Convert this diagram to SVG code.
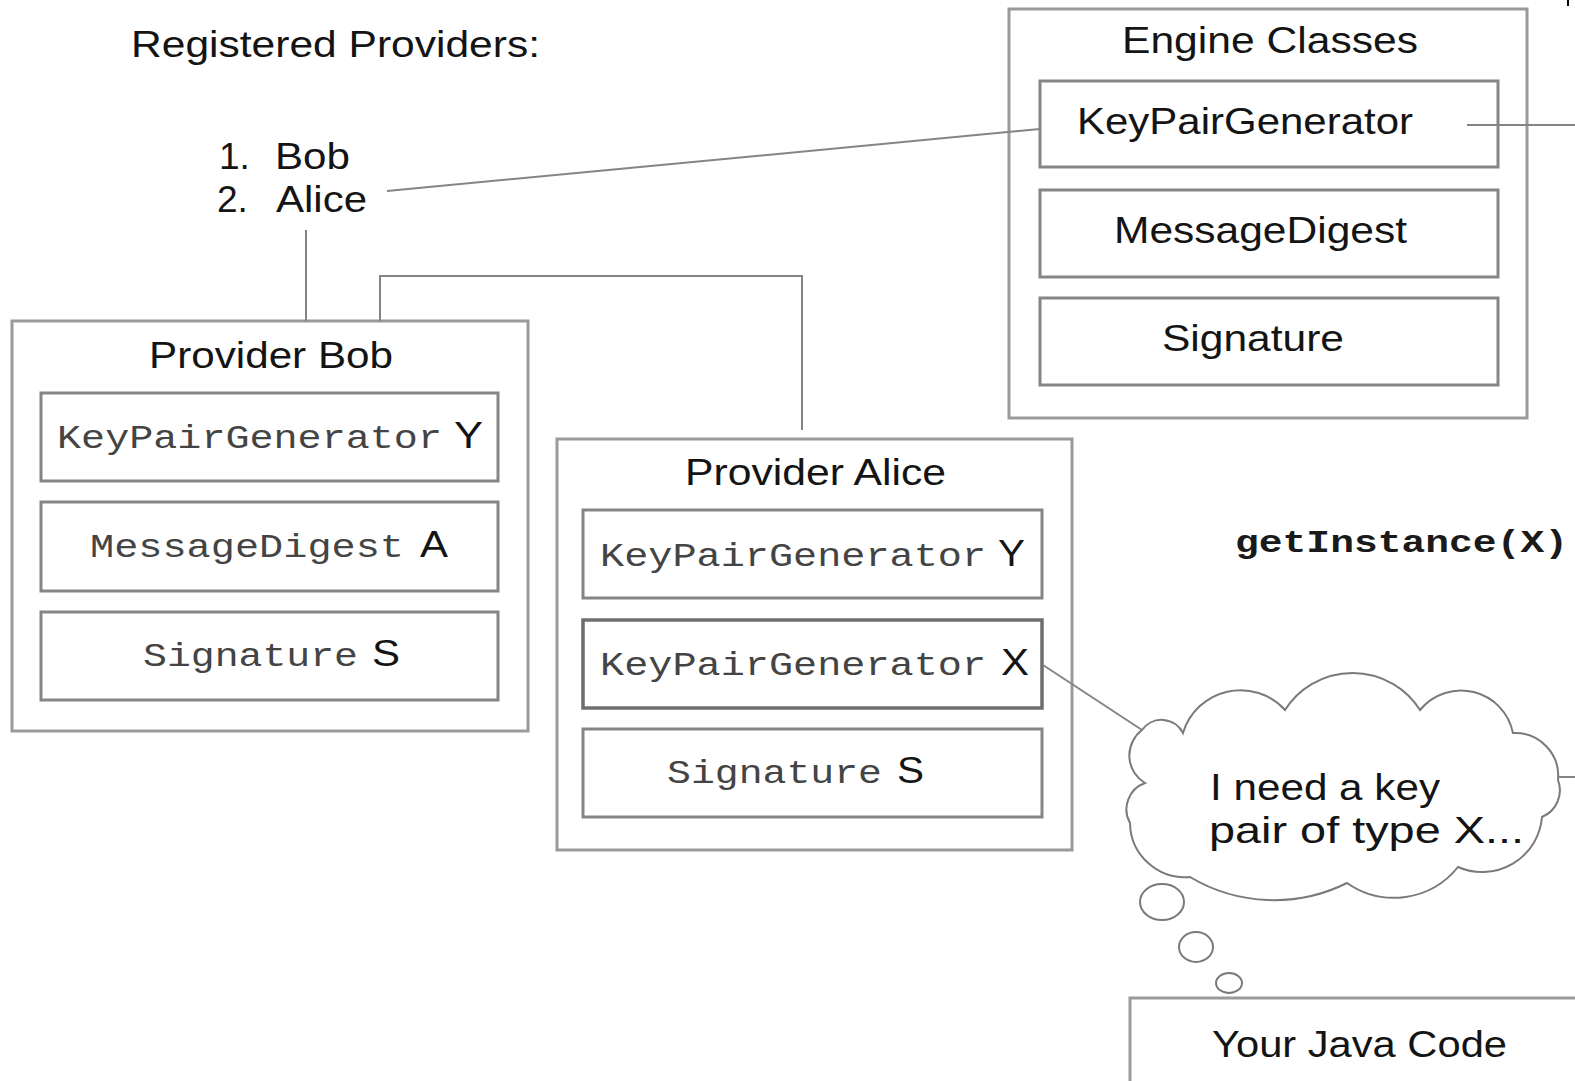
<svg xmlns="http://www.w3.org/2000/svg" width="1575" height="1081" viewBox="0 0 1575 1081">
  <style>
    .outer { fill: #fff; stroke: #9a9a9a; stroke-width: 3; }
    .inner { fill: #fff; stroke: #858585; stroke-width: 3; }
    .sel { fill: #fff; stroke: #6e6e6e; stroke-width: 3.5; }
    .sans { font-family: "Liberation Sans", Arial, sans-serif; font-size: 37px; fill: #141414; }
    .mono { font-family: "Liberation Mono", "Courier New", monospace; font-size: 34px; fill: #444; }
    .code { font-family: "Liberation Mono", "Courier New", monospace; font-size: 32px; font-weight: bold; fill: #1a1a1a; }
    .wire { fill: none; stroke: #858585; stroke-width: 2; }
    .bubble { fill: #fff; stroke: #7a7a7a; stroke-width: 2; }
  </style>

  <rect width="1575" height="1081" fill="#fff"/>

  <text id="registered-title" class="sans" x="131" y="57" textLength="409" lengthAdjust="spacingAndGlyphs">Registered Providers:</text>

  <g id="provider-order">
    <text class="sans" y="169"><tspan x="219">1.</tspan><tspan x="275" textLength="75" lengthAdjust="spacingAndGlyphs">Bob</tspan></text>
    <text class="sans" y="212"><tspan x="217">2.</tspan><tspan x="276" textLength="91" lengthAdjust="spacingAndGlyphs">Alice</tspan></text>
  </g>

  <!-- engine classes -->
  <g id="engine-classes">
    <rect class="outer" x="1009" y="9" width="518" height="409"/>
    <text class="sans" x="1122" y="53" textLength="296" lengthAdjust="spacingAndGlyphs">Engine Classes</text>
    <g id="engine-kpg">
      <rect class="inner" x="1040" y="81" width="458" height="86"/>
      <text class="sans" x="1077" y="134" textLength="336" lengthAdjust="spacingAndGlyphs">KeyPairGenerator</text>
    </g>
    <g id="engine-md">
      <rect class="inner" x="1040" y="190" width="458" height="87"/>
      <text class="sans" x="1114" y="243" textLength="293" lengthAdjust="spacingAndGlyphs">MessageDigest</text>
    </g>
    <g id="engine-sig">
      <rect class="inner" x="1040" y="298" width="458" height="87"/>
      <text class="sans" x="1162" y="351" textLength="182" lengthAdjust="spacingAndGlyphs">Signature</text>
    </g>
  </g>

  <!-- provider Bob -->
  <g id="provider-bob">
    <rect class="outer" x="12" y="321" width="516" height="410"/>
    <text class="sans" x="149" y="368" textLength="244" lengthAdjust="spacingAndGlyphs">Provider Bob</text>
    <g id="bob-kpg">
      <rect class="inner" x="41" y="393" width="457" height="88"/>
      <text class="mono" x="57" y="448" textLength="385" lengthAdjust="spacingAndGlyphs">KeyPairGenerator</text>
      <text class="sans" x="454" y="448" textLength="29" lengthAdjust="spacingAndGlyphs">Y</text>
    </g>
    <g id="bob-md">
      <rect class="inner" x="41" y="502" width="457" height="89"/>
      <text class="mono" x="90" y="557" textLength="314" lengthAdjust="spacingAndGlyphs">MessageDigest</text>
      <text class="sans" x="420" y="557" textLength="28" lengthAdjust="spacingAndGlyphs">A</text>
    </g>
    <g id="bob-sig">
      <rect class="inner" x="41" y="612" width="457" height="88"/>
      <text class="mono" x="143" y="666" textLength="215" lengthAdjust="spacingAndGlyphs">Signature</text>
      <text class="sans" x="372" y="666" textLength="28" lengthAdjust="spacingAndGlyphs">S</text>
    </g>
  </g>

  <!-- provider Alice -->
  <g id="provider-alice">
    <rect class="outer" x="557" y="439" width="515" height="411"/>
    <text class="sans" x="685" y="485" textLength="261" lengthAdjust="spacingAndGlyphs">Provider Alice</text>
    <g id="alice-kpg-y">
      <rect class="inner" x="583" y="510" width="459" height="88"/>
      <text class="mono" x="600" y="566" textLength="386" lengthAdjust="spacingAndGlyphs">KeyPairGenerator</text>
      <text class="sans" x="998" y="566" textLength="27" lengthAdjust="spacingAndGlyphs">Y</text>
    </g>
    <g id="alice-kpg-x">
      <rect class="sel" x="583" y="620" width="459" height="88"/>
      <text class="mono" x="600" y="675" textLength="386" lengthAdjust="spacingAndGlyphs">KeyPairGenerator</text>
      <text class="sans" x="1001" y="675" textLength="28" lengthAdjust="spacingAndGlyphs">X</text>
    </g>
    <g id="alice-sig">
      <rect class="inner" x="583" y="729" width="459" height="88"/>
      <text class="mono" x="667" y="783" textLength="215" lengthAdjust="spacingAndGlyphs">Signature</text>
      <text class="sans" x="897" y="783" textLength="27" lengthAdjust="spacingAndGlyphs">S</text>
    </g>
  </g>

  <text id="get-instance" class="code" x="1235" y="552" textLength="333" lengthAdjust="spacingAndGlyphs">getInstance(X)</text>

  <!-- thought bubble -->
  <g id="thought">
    <path class="bubble" d="M1142,730 A24,24 0 0 1 1183,733 A60,60 0 0 1 1285,710 A80,80 0 0 1 1420,710 A53,53 0 0 1 1513,733 A43,43 0 0 1 1558,780 A29,29 0 0 1 1542,817 A60,60 0 0 1 1458,867 A82,82 0 0 1 1347,883 A164,164 0 0 1 1190,877 A55,55 0 0 1 1130,823 A28,28 0 0 1 1145,783 A32,32 0 0 1 1142,730 Z"/>
    <text class="sans" x="1210" y="800" textLength="230" lengthAdjust="spacingAndGlyphs">I need a key</text>
    <text class="sans" x="1209" y="843" textLength="315" lengthAdjust="spacingAndGlyphs">pair of type X...</text>
    <ellipse class="bubble" cx="1162" cy="902" rx="22" ry="18" stroke="#333"/>
    <ellipse class="bubble" cx="1196" cy="947" rx="17" ry="15" stroke="#333"/>
    <ellipse class="bubble" cx="1229" cy="983" rx="13" ry="10" stroke="#333"/>
  </g>

  <!-- caller -->
  <g id="java-code">
    <polyline class="outer" fill="none" points="1130,1081 1130,998 1575,998"/>
    <text class="sans" x="1212" y="1057" textLength="295" lengthAdjust="spacingAndGlyphs">Your Java Code</text>
  </g>

  <!-- connectors, drawn over the boxes they cross -->
  <g id="connectors">
    <line class="wire" x1="387" y1="191" x2="1040" y2="129"/>
    <line class="wire" x1="1467" y1="125" x2="1575" y2="125"/>
    <line class="wire" x1="306" y1="230" x2="306" y2="321"/>
    <polyline class="wire" points="380,321 380,276 802,276 802,430"/>
    <line class="wire" x1="1043" y1="665" x2="1142" y2="730"/>
    <line class="wire" x1="1557" y1="777" x2="1575" y2="777"/>
    <line x1="1568" y1="0" x2="1568" y2="6" stroke="#000" stroke-width="2"/>
  </g>
</svg>
